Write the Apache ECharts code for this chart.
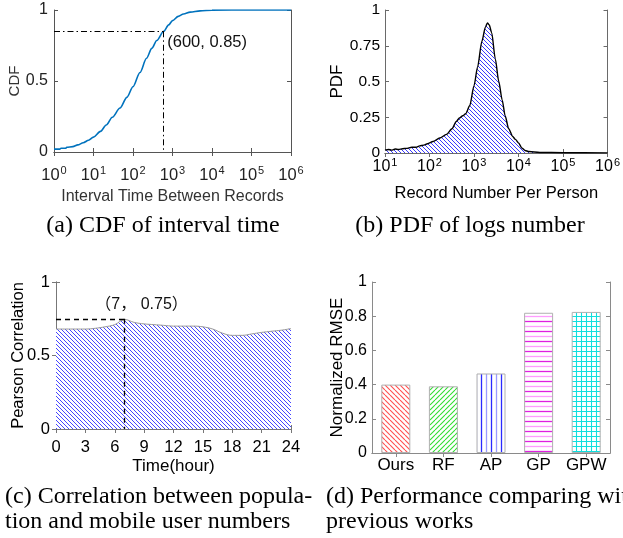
<!DOCTYPE html>
<html><head><meta charset="utf-8">
<script src="https://cdn.jsdelivr.net/npm/echarts@6/dist/echarts.min.js"></script>
<style>html,body{margin:0;padding:0;background:#fff}#c{width:623px;height:538px}</style>
</head><body><div id="c"></div>
<script>
// ---------- DATA ----------
// (a) CDF of interval time
const cdfX = [1, 1.4, 1.5, 2, 2.1, 3, 4, 5.5, 7.5, 10, 15, 21, 30, 47, 70, 100, 150, 220, 300, 400, 600, 800, 1000, 1400, 1900, 2800, 5000, 10000, 100000, 1000000];
const cdfY = [0.02, 0.02, 0.026, 0.027, 0.033, 0.038, 0.05, 0.065, 0.083, 0.105, 0.145, 0.19, 0.245, 0.31, 0.385, 0.46, 0.56, 0.66, 0.73, 0.785, 0.85, 0.895, 0.925, 0.955, 0.972, 0.985, 0.994, 0.999, 1.0, 1.0];
const cdfMark = [600, 0.85];
const cdfMarkLabel = '(600, 0.85)';
// (b) PDF of logs number
const pdfX = [10, 12, 14, 17, 20, 25, 30, 40, 50, 60, 75, 90, 120, 170, 240, 320, 400, 470, 560, 650, 800, 1000, 1200, 1500, 1800, 2000, 2200, 2500, 3000, 3600, 4300, 5000, 6000, 7400, 8500, 10000, 12000, 14000, 17000, 30000, 100000, 1000000];
const pdfY = [0.02, 0.025, 0.02, 0.028, 0.025, 0.03, 0.032, 0.04, 0.04, 0.05, 0.055, 0.065, 0.08, 0.105, 0.13, 0.17, 0.22, 0.245, 0.26, 0.275, 0.33, 0.47, 0.6, 0.78, 0.88, 0.91, 0.895, 0.84, 0.66, 0.50, 0.37, 0.26, 0.17, 0.115, 0.095, 0.07, 0.033, 0.018, 0.01, 0.004, 0.002, 0.001];
// (c) Correlation between population and mobile user numbers
const corrHours = [0,1,2,3,4,5,6,7,8,9,10,11,12,13,14,15,16,17,18,19,20,21,22,23,24];
const corrY = [0.68, 0.68, 0.68, 0.68, 0.685, 0.695, 0.71, 0.745, 0.725, 0.715, 0.71, 0.705, 0.70, 0.70, 0.70, 0.695, 0.68, 0.652, 0.637, 0.637, 0.647, 0.657, 0.665, 0.672, 0.683];
const corrMark = [7, 0.75];
const corrMarkLabel = '（7， 0.75）';
// (d) Performance comparing with previous works
const rmseCats = ['Ours', 'RF', 'AP', 'GP', 'GPW'];
const rmseVals = [0.40, 0.39, 0.465, 0.82, 0.825];
// captions
const captions = ['(a) CDF of interval time', '(b) PDF of logs number',
  '(c) Correlation between popula-', 'tion and mobile user numbers',
  '(d) Performance comparing with', 'previous works'];

// ---------- STYLE HELPERS ----------
const SANS = '"Liberation Sans", Arial, Helvetica, sans-serif';
const SERIF = '"Liberation Serif", "Times New Roman", serif';

function hatch(kind, color, size, lw, color2) {
  const c = document.createElement('canvas');
  c.width = size; c.height = size;
  const g = c.getContext('2d');
  g.fillStyle = '#fff'; g.fillRect(0, 0, size, size);
  g.lineWidth = lw;
  const line = (col, f) => { g.strokeStyle = col; g.beginPath(); f(); g.stroke(); };
  if (kind === 'back') line(color, () => { for (let k = -size; k <= size; k += size) { g.moveTo(k, 0); g.lineTo(k + size, size); } });
  if (kind === 'fwd') line(color, () => { for (let k = -size; k <= size; k += size) { g.moveTo(k, size); g.lineTo(k + size, 0); } });
  if (kind === 'vert') {
    line(color, () => { g.moveTo(1.5, 0); g.lineTo(1.5, size); });
    if (color2) line(color2, () => { g.moveTo(size / 2 + 1.5, 0); g.lineTo(size / 2 + 1.5, size); });
  }
  if (kind === 'horiz') {
    line(color, () => { g.moveTo(0, 1.5); g.lineTo(size, 1.5); });
    if (color2) line(color2, () => { g.moveTo(0, size / 2 + 1.5); g.lineTo(size, size / 2 + 1.5); });
  }
  if (kind === 'grid') line(color, () => { g.moveTo(0, 1.5); g.lineTo(size, 1.5); g.moveTo(1.5, 0); g.lineTo(1.5, size); });
  return { image: c, repeat: 'repeat' };
}

const barPatterns = [
  hatch('back', '#ff5050', 5, 1.1),
  hatch('fwd', '#33dd33', 5, 1.1),
  hatch('vert', '#2a2aff', 10, 1.3, '#9a9aff'),
  hatch('horiz', '#e020e0', 10, 1.3, '#ff9cff'),
  hatch('grid', '#10dede', 5, 1.1)
];

const logFmt = v => '{b|10}{s|' + Math.round(Math.log10(v)) + '}';
const logRich = (col, fs) => ({
  b: { fontSize: fs, fontFamily: SANS, color: col },
  s: { fontSize: 11, fontFamily: SANS, color: col, verticalAlign: 'bottom', padding: [0, 0, 9, 1] }
});

function boxAxis(base, gridIndex, pos, lineCol) {
  return Object.assign({}, base, {
    gridIndex, position: pos, name: '',
    axisLine: { show: true, lineStyle: { color: lineCol, width: 1 } },
    axisTick: { show: true, inside: true, length: 4, lineStyle: { color: lineCol } },
    axisLabel: { show: false }, splitLine: { show: false }
  });
}

// ---------- AXES ----------
const colA = '#555', colB = '#6a6a6a', colC = '#777', colD = '#8a8a8a';
const xA = { type: 'log', logBase: 10, min: 1, max: 1e6, splitNumber: 6 };
const xB = { type: 'log', logBase: 10, min: 10, max: 1e6, splitNumber: 5 };
const xC = { type: 'value', min: 0, max: 24, interval: 3 };
const xD = { type: 'category', data: rmseCats };
const yA = { type: 'value', min: 0, max: 1, interval: 0.5 };
const yB = { type: 'value', min: 0, max: 1, interval: 0.25 };
const yC = { type: 'value', min: 0, max: 1, interval: 0.5 };
const yD = { type: 'value', min: 0, max: 1, interval: 0.2 };

const xAxis = [
  Object.assign({}, xA, { gridIndex: 0, position: 'bottom', name: 'Interval Time Between Records', nameLocation: 'middle', nameGap: 37, nameMoveOverlap: false,
    nameTextStyle: { fontSize: 16, fontFamily: SANS, color: '#333' },
    axisLine: { lineStyle: { color: colA } }, axisTick: { inside: true, length: 4, lineStyle: { color: colA } },
    axisLabel: { formatter: logFmt, rich: logRich('#222', 16.5), margin: 13 }, splitLine: { show: false } }),
  boxAxis(xA, 0, 'top', colA),
  Object.assign({}, xB, { gridIndex: 1, position: 'bottom', name: 'Record Number Per Person', nameLocation: 'middle', nameGap: 32, nameMoveOverlap: false,
    nameTextStyle: { fontSize: 16.5, fontFamily: SANS, color: '#000' },
    axisLine: { lineStyle: { color: colB } }, axisTick: { inside: true, length: 4, lineStyle: { color: colB } },
    axisLabel: { formatter: logFmt, rich: logRich('#000', 16), margin: 4 }, splitLine: { show: false } }),
  boxAxis(xB, 1, 'top', colB),
  Object.assign({}, xC, { gridIndex: 2, position: 'bottom', name: 'Time(hour)', nameLocation: 'middle', nameGap: 29, nameMoveOverlap: false,
    nameTextStyle: { fontSize: 17, fontFamily: SANS, color: '#000' },
    axisLine: { lineStyle: { color: colC } }, axisTick: { inside: true, length: 4, lineStyle: { color: colC } },
    axisLabel: { fontSize: 16.5, fontFamily: SANS, color: '#000', margin: 10 }, splitLine: { show: false } }),
  boxAxis(xC, 2, 'top', colC),
  Object.assign({}, xD, { gridIndex: 3, position: 'bottom',
    axisLine: { lineStyle: { color: colD } }, axisTick: { show: false },
    axisLabel: { interval: 0, fontSize: 17, fontFamily: SANS, color: '#000', margin: 4 }, splitLine: { show: false } }),
  Object.assign(boxAxis(xD, 3, 'top', colD), { axisTick: { show: true, inside: true, alignWithLabel: true, length: 4, lineStyle: { color: colD } } })
];

const yAxis = [
  Object.assign({}, yA, { gridIndex: 0, position: 'left', name: 'CDF', nameLocation: 'middle', nameGap: 32, nameMoveOverlap: false,
    nameTextStyle: { fontSize: 15, fontFamily: SANS, color: '#333' },
    axisLine: { show: true, lineStyle: { color: colA } }, axisTick: { show: true, inside: true, length: 4, lineStyle: { color: colA } },
    axisLabel: { fontSize: 16, fontFamily: SANS, color: '#222', margin: 6 }, splitLine: { show: false } }),
  boxAxis(yA, 0, 'right', colA),
  Object.assign({}, yB, { gridIndex: 1, position: 'left', name: 'PDF', nameLocation: 'middle', nameGap: 39, nameMoveOverlap: false,
    nameTextStyle: { fontSize: 17, fontFamily: SANS, color: '#000' },
    axisLine: { show: true, lineStyle: { color: colB } }, axisTick: { show: true, inside: true, length: 4, lineStyle: { color: colB } },
    axisLabel: { fontSize: 15.5, fontFamily: SANS, color: '#000', margin: 5 }, splitLine: { show: false } }),
  boxAxis(yB, 1, 'right', colB),
  Object.assign({}, yC, { gridIndex: 2, position: 'left', name: 'Pearson Correlation', nameLocation: 'middle', nameGap: 29, nameMoveOverlap: false,
    nameTextStyle: { fontSize: 16.5, fontFamily: SANS, color: '#000' },
    axisLine: { show: true, lineStyle: { color: colC } }, axisTick: { show: true, inside: true, length: 4, lineStyle: { color: colC } },
    axisLabel: { fontSize: 16.5, fontFamily: SANS, color: '#000', margin: 6 }, splitLine: { show: false } }),
  boxAxis(yC, 2, 'right', colC),
  Object.assign({}, yD, { gridIndex: 3, position: 'left', name: 'Normalized RMSE', nameLocation: 'middle', nameGap: 26, nameMoveOverlap: false,
    nameTextStyle: { fontSize: 17, fontFamily: SANS, color: '#000' },
    axisLine: { show: true, lineStyle: { color: colD } }, axisTick: { show: true, inside: true, length: 4, lineStyle: { color: colD } },
    axisLabel: { fontSize: 16, fontFamily: SANS, color: '#000', margin: 5 }, splitLine: { show: false } }),
  boxAxis(yD, 3, 'right', colD)
];

const capStyle = (align) => ({ font: '24px ' + SERIF, fill: '#000', align, textAlign: align, verticalAlign: 'middle', textVerticalAlign: 'middle' });

const option = {
  animation: false,
  backgroundColor: '#fff',
  grid: [
    { left: 54, top: 10, width: 237, height: 142 },
    { left: 385, top: 10, width: 224, height: 143 },
    { left: 56, top: 282, width: 235, height: 147 },
    { left: 372, top: 282, width: 238, height: 171 }
  ],
  xAxis, yAxis,
  series: [
    {
      type: 'line', xAxisIndex: 0, yAxisIndex: 0, showSymbol: false, smooth: 0.3, smoothMonotone: 'x',
      data: cdfX.map((x, i) => [x, cdfY[i]]),
      lineStyle: { color: '#0072BD', width: 1.6 },
      markLine: {
        silent: true, symbol: 'none', label: { show: false }, z: 5,
        lineStyle: { color: '#000', width: 1, type: [6, 3, 1.5, 3] },
        data: [
          [{ coord: [xA.min, cdfMark[1]] }, { coord: [cdfMark[0], cdfMark[1]] }],
          [{ coord: [cdfMark[0], cdfMark[1]] }, { coord: [cdfMark[0], 0] }]
        ]
      },
      markPoint: {
        silent: true, symbol: 'circle', symbolSize: 1, itemStyle: { color: 'rgba(0,0,0,0)' },
        label: { show: true, position: 'right', distance: 3, offset: [0, 11], formatter: cdfMarkLabel,
          fontSize: 16.5, fontFamily: SANS, color: '#111' },
        data: [{ coord: cdfMark }]
      }
    },
    {
      type: 'line', xAxisIndex: 2, yAxisIndex: 2, showSymbol: false, smooth: 0.25, smoothMonotone: 'x',
      data: pdfX.map((x, i) => [x, pdfY[i]]),
      lineStyle: { color: '#000', width: 1.4 },
      areaStyle: { color: hatch('back', '#3a3aff', 4, 1), opacity: 1 }
    },
    {
      type: 'line', xAxisIndex: 4, yAxisIndex: 4, showSymbol: false, smooth: 0.4,
      data: corrHours.map((h, i) => [h, corrY[i]]),
      lineStyle: { color: '#999', width: 1 },
      areaStyle: { color: hatch('back', '#4646ff', 4, 1), opacity: 1 },
      markLine: {
        silent: true, symbol: 'none', label: { show: false }, z: 5,
        lineStyle: { color: '#000', width: 1.3, type: [5, 4] },
        data: [
          [{ coord: [xC.min, corrMark[1]] }, { coord: [corrMark[0], corrMark[1]] }],
          [{ coord: [corrMark[0], corrMark[1]] }, { coord: [corrMark[0], 0] }]
        ]
      },
      markPoint: {
        silent: true, symbol: 'circle', symbolSize: 1, itemStyle: { color: 'rgba(0,0,0,0)' },
        label: { show: true, position: 'inside', offset: [17, -14], formatter: corrMarkLabel,
          fontSize: 16, fontFamily: '"Liberation Sans", "Noto Sans CJK SC", sans-serif', color: '#111' },
        data: [{ coord: corrMark }]
      }
    },
    {
      type: 'bar', xAxisIndex: 6, yAxisIndex: 6, barWidth: 29,
      data: rmseVals.map((v, i) => ({ value: v, itemStyle: { color: barPatterns[i] } })),
      itemStyle: { borderColor: '#b0b0b0', borderWidth: 1 }
    }
  ],
  graphic: [
    { type: 'text', x: 163, y: 226, style: Object.assign({ text: captions[0] }, capStyle('center')) },
    { type: 'text', x: 470, y: 226, style: Object.assign({ text: captions[1] }, capStyle('center')) },
    { type: 'text', x: 5, y: 497, style: Object.assign({ text: captions[2] }, capStyle('left')) },
    { type: 'text', x: 5, y: 522, style: Object.assign({ text: captions[3] }, capStyle('left')) },
    { type: 'text', x: 326, y: 497, style: Object.assign({ text: captions[4] }, capStyle('left')) },
    { type: 'text', x: 326, y: 522, style: Object.assign({ text: captions[5] }, capStyle('left')) }
  ]
};

const chart = echarts.init(document.getElementById('c'), null, { renderer: 'canvas' });
chart.setOption(option);
</script>
</body></html>
